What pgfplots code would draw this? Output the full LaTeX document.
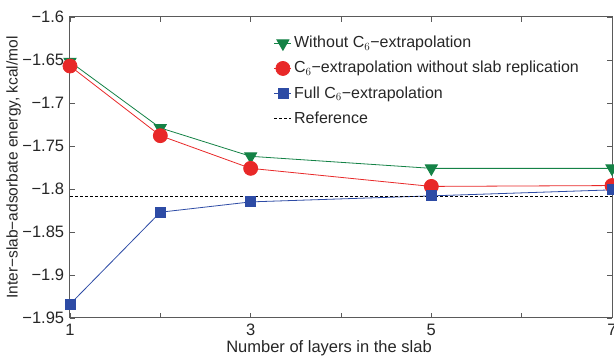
\documentclass[border=0pt]{standalone}
\usepackage{pgfplots}
\pgfplotsset{compat=1.18}
\usepackage{fontspec}
\setmainfont{Liberation Sans}
\usetikzlibrary{calc}
\definecolor{cgreen}{RGB}{20,130,70}
\definecolor{cred}{RGB}{232,40,40}
\definecolor{cblue}{RGB}{45,75,165}
\definecolor{cframe}{RGB}{90,90,90}
\begin{document}
\fontsize{17}{19}\selectfont
\begin{tikzpicture}[x=1pt,y=1pt]
\begin{axis}[
  scale only axis,
  width=542pt, height=301pt,
  xmin=1, xmax=7, ymin=-1.95, ymax=-1.6,
  xtick={1,2,3,4,5,6,7},
  xticklabels={1,,3,,5,,7},
  ytick={-1.95,-1.9,-1.85,-1.8,-1.75,-1.7,-1.65,-1.6},
  yticklabels={−1.95,−1.9,−1.85,−1.8,−1.75,−1.7,−1.65,−1.6},
  tick label style={font=\fontsize{16.5}{19}\selectfont, text=black!85},
  label style={font=\fontsize{16.5}{19}\selectfont, text=black!85},
  axis line style={cframe, line width=1pt},
  tick style={cframe, line width=0.8pt},
  major tick length=5pt,
  xlabel={Number of layers in the slab},
  ylabel={Inter−slab−adsorbate energy, kcal/mol},
  xlabel style={yshift=7pt, xshift=-12pt},
  ylabel style={yshift=-10pt, font=\fontsize{15.5}{18}\selectfont},
  legend style={draw=none, fill=none, at={(0.37,0.95)}, anchor=north west,
    font=\fontsize{16}{18}\selectfont, row sep=7pt, text=black!85},
  legend cell align=left,
  clip=false,
]
\addplot[cgreen, line width=0.8pt, mark=triangle*, mark size=7pt, mark options={rotate=180, solid}]
  coordinates {(1,-1.652) (2,-1.729) (3,-1.762) (5,-1.776) (7,-1.776)};
\addlegendentry{Without C$_6$−extrapolation}
\addplot[cred, line width=0.8pt, mark=*, mark size=7pt]
  coordinates {(1,-1.657) (2,-1.738) (3,-1.776) (5,-1.797) (7,-1.796)};
\addlegendentry{C$_6$−extrapolation without slab replication}
\addplot[cblue, line width=0.8pt, mark=square*, mark size=5pt]
  coordinates {(1,-1.934) (2,-1.827) (3,-1.815) (5,-1.808) (7,-1.801)};
\addlegendentry{Full C$_6$−extrapolation}
\addplot[black, dashed, dash pattern=on 3pt off 2pt, line width=1.3pt]
  coordinates {(1,-1.809) (7,-1.809)};
\addlegendentry{Reference}
\end{axis}
\pgfresetboundingbox
\path[use as bounding box] ($(current axis.south west)+(-70,-38)$) rectangle ($(current axis.north east)+(2,17)$);
\end{tikzpicture}
\end{document}
